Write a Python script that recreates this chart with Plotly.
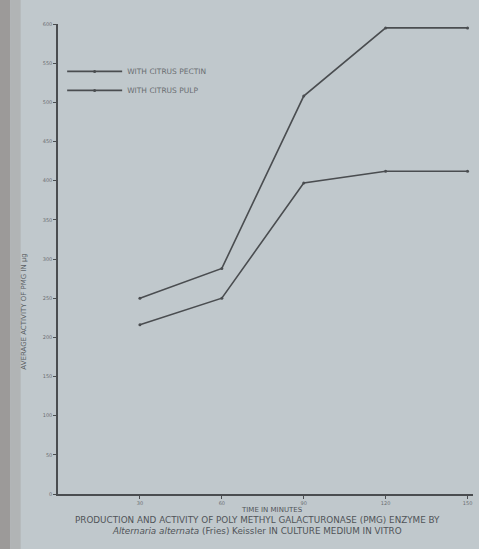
import plotly.graph_objects as go

# Time after inoculation (minutes)
time_min = [30, 60, 90, 120, 150]

# Enzyme activity for the two culture media
with_pectin = [250, 288, 508, 595, 595]
with_pulp = [216, 250, 397, 412, 412]

series_names = ["WITH CITRUS PECTIN", "WITH CITRUS PULP"]

y_ticks = list(range(0, 650, 50))
x_ticks = [30, 60, 90, 120, 150]

ink = "#4a4d50"
paper = "#c0c8cc"

fig = go.Figure()
for name, vals in zip(series_names, [with_pectin, with_pulp]):
    fig.add_trace(go.Scatter(
        x=time_min, y=vals, name=name, mode="lines+markers",
        line=dict(color=ink, width=1.6),
        marker=dict(color=ink, size=3),
    ))

fig.update_layout(
    width=479, height=549,
    margin=dict(l=58, r=6, t=24, b=55),
    paper_bgcolor=paper, plot_bgcolor=paper,
    font=dict(family="DejaVu Sans", color="#6a6e72", size=5),
    showlegend=True,
    legend=dict(x=0.01, y=0.93, xanchor="left", yanchor="top",
                bgcolor="rgba(0,0,0,0)", font=dict(size=7.5, color="#6a6e72"),
                itemwidth=55, tracegroupgap=4),
    xaxis=dict(range=[0, 152], tickvals=x_ticks, showgrid=False, zeroline=False,
               showline=True, linecolor=ink, linewidth=1.5,
               ticks="outside", ticklen=3, tickcolor=ink),
    yaxis=dict(range=[0, 600], tickvals=y_ticks, showgrid=False, zeroline=False,
               showline=True, linecolor=ink, linewidth=1.5,
               ticks="outside", ticklen=3, tickcolor=ink),
    annotations=[
        dict(text="AVERAGE ACTIVITY OF PMG IN µg", textangle=-90,
             xref="paper", yref="paper", x=-0.082, y=0.39, xanchor="center", yanchor="middle",
             showarrow=False, font=dict(size=7, color="#5a5e62")),
        dict(text="TIME IN MINUTES",
             xref="paper", yref="paper", x=0.515, y=-0.021, xanchor="center", yanchor="top",
             showarrow=False, font=dict(size=7, color="#505458")),
        dict(text="PRODUCTION AND ACTIVITY OF POLY METHYL GALACTURONASE (PMG) ENZYME BY<br>"
                  "<i>Alternaria alternata</i> (Fries) Keissler IN CULTURE MEDIUM IN VITRO",
             xref="paper", yref="paper", x=0.48, y=-0.041, xanchor="center", yanchor="top",
             showarrow=False, font=dict(size=8.8, color="#505458")),
    ],
    shapes=[
        dict(type="rect", xref="paper", yref="paper", x0=-0.15, x1=-0.115, y0=-0.25, y1=1.1,
             fillcolor="#9c9a99", line=dict(width=0), layer="below"),
        dict(type="rect", xref="paper", yref="paper", x0=-0.115, x1=-0.09, y0=-0.25, y1=1.1,
             fillcolor="#b1b4b5", line=dict(width=0), layer="below"),
    ],
)

fig.write_html("out.html")
